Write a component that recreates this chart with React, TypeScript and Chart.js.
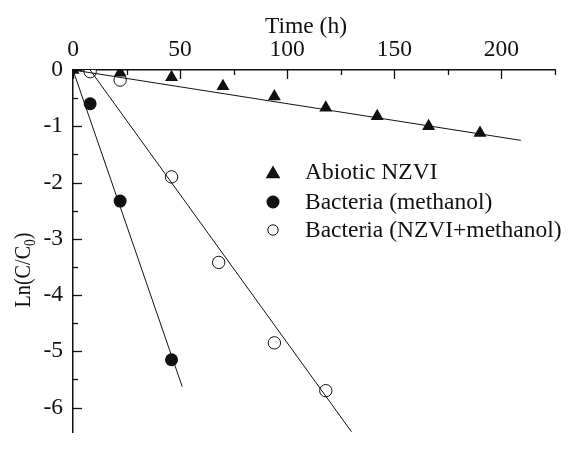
import React, { useEffect, useRef } from 'react';
import { Chart, registerables } from 'chart.js';

Chart.register(...registerables);

// ---- data ----
const X_TICKS = [0, 50, 100, 150, 200];
const X_MINOR = [25, 75, 125, 175, 225];
const Y_TICKS = [0, -1, -2, -3, -4, -5, -6];
const Y_MINOR = [-0.5, -1.5, -2.5, -3.5, -4.5, -5.5];

const abioticTime = [0, 22, 46, 70, 94, 118, 142, 166, 190];
const abioticLn = [0, -0.05, -0.13, -0.29, -0.47, -0.67, -0.82, -1.0, -1.12];
const methanolTime = [8, 22, 46];
const methanolLn = [-0.6, -2.33, -5.15];
const nzviMethTime = [8, 22, 46, 68, 94, 118];
const nzviMethLn = [-0.03, -0.18, -1.9, -3.42, -4.85, -5.7];

const abioticFitX = [0, 209];
const abioticFitY = [0, -1.25];
const methanolFitX = [0, 51];
const methanolFitY = [0, -5.63];
const nzviMethFitX = [8, 130];
const nzviMethFitY = [0, -6.43];

const LEGEND_LABELS = ['Abiotic NZVI', 'Bacteria (methanol)', 'Bacteria (NZVI+methanol)'];

const FONT = 'Liberation Serif, "Times New Roman", serif';
const INK = '#111';

const pts = (xs: number[], ys: number[]) => xs.map((x, i) => ({ x, y: ys[i] }));

function drawTriangle(ctx: CanvasRenderingContext2D, x: number, y: number, r: number) {
  ctx.beginPath();
  for (let k = 0; k < 3; k++) {
    const a = (k * 2 * Math.PI) / 3;
    const px = x + Math.sin(a) * r;
    const py = y - Math.cos(a) * r;
    if (k === 0) ctx.moveTo(px, py);
    else ctx.lineTo(px, py);
  }
  ctx.closePath();
  ctx.fill();
}

const decorPlugin = {
  id: 'decor',
  afterDraw(chart: any) {
    const { ctx, chartArea, scales } = chart;
    const xs = scales.x;
    const ys = scales.y;
    ctx.save();
    ctx.strokeStyle = INK;
    ctx.lineWidth = 1.3;
    const top = chartArea.top;
    const left = chartArea.left;
    X_TICKS.forEach((v) => {
      const px = Math.round(xs.getPixelForValue(v)) + 0.5;
      ctx.beginPath();
      ctx.moveTo(px, top);
      ctx.lineTo(px, top + 9);
      ctx.stroke();
    });
    X_MINOR.forEach((v) => {
      const px = Math.round(xs.getPixelForValue(v)) + 0.5;
      ctx.beginPath();
      ctx.moveTo(px, top);
      ctx.lineTo(px, top + 5);
      ctx.stroke();
    });
    Y_TICKS.forEach((v) => {
      const py = Math.round(ys.getPixelForValue(v)) + 0.5;
      ctx.beginPath();
      ctx.moveTo(left, py);
      ctx.lineTo(left + 9, py);
      ctx.stroke();
    });
    Y_MINOR.forEach((v) => {
      const py = Math.round(ys.getPixelForValue(v)) + 0.5;
      ctx.beginPath();
      ctx.moveTo(left, py);
      ctx.lineTo(left + 5, py);
      ctx.stroke();
    });

    ctx.fillStyle = INK;
    ctx.font = `23.5px ${FONT}`;
    ctx.textAlign = 'center';
    ctx.textBaseline = 'alphabetic';
    ctx.fillText('Time (h)', 306, 33);

    ctx.save();
    ctx.translate(30, 270);
    ctx.rotate(-Math.PI / 2);
    const mainFont = `24px ${FONT}`;
    const subFont = `16px ${FONT}`;
    ctx.font = mainFont;
    const w1 = ctx.measureText('Ln(C/C').width;
    const w3 = ctx.measureText(')').width;
    ctx.font = subFont;
    const w2 = ctx.measureText('0').width;
    const total = w1 + w2 + w3;
    const sx = 75 / total;
    ctx.scale(sx, 1);
    let cx = -total / 2;
    ctx.textAlign = 'left';
    ctx.font = mainFont;
    ctx.fillText('Ln(C/C', cx, 0);
    cx += w1;
    ctx.font = subFont;
    ctx.fillText('0', cx, 5);
    cx += w2;
    ctx.font = mainFont;
    ctx.fillText(')', cx, 0);
    ctx.restore();

    const lx = 273;
    const tx = 305;
    const rows = [172, 202, 230];
    ctx.font = `23.5px ${FONT}`;
    ctx.textAlign = 'left';
    ctx.textBaseline = 'middle';
    ctx.fillStyle = INK;
    drawTriangle(ctx, lx, rows[0] + 2, 8.5);
    ctx.beginPath();
    ctx.arc(lx, rows[1], 6.5, 0, Math.PI * 2);
    ctx.fill();
    ctx.beginPath();
    ctx.lineWidth = 1;
    ctx.arc(lx, rows[2], 5.2, 0, Math.PI * 2);
    ctx.stroke();
    LEGEND_LABELS.forEach((t, i) => ctx.fillText(t, tx, rows[i] + 1));
    ctx.restore();
  },
};

export default function App() {
  const ref = useRef<HTMLCanvasElement | null>(null);
  useEffect(() => {
    if (!ref.current) return;
    const lineDs = (xs: number[], ys: number[]) => ({
      type: 'scatter' as const,
      data: pts(xs, ys),
      showLine: true,
      borderColor: INK,
      borderWidth: 1,
      pointRadius: 0,
      fill: false,
    });
    const chart = new Chart(ref.current, {
      type: 'scatter',
      data: {
        datasets: [
          lineDs(abioticFitX, abioticFitY),
          lineDs(methanolFitX, methanolFitY),
          lineDs(nzviMethFitX, nzviMethFitY),
          {
            label: LEGEND_LABELS[0],
            data: pts(abioticTime, abioticLn),
            pointStyle: 'triangle',
            pointRadius: 7.5,
            backgroundColor: INK,
            borderColor: INK,
            borderWidth: 0,
          },
          {
            label: LEGEND_LABELS[1],
            data: pts(methanolTime, methanolLn),
            pointStyle: 'circle',
            pointRadius: 6.5,
            backgroundColor: INK,
            borderColor: INK,
            borderWidth: 0,
          },
          {
            label: LEGEND_LABELS[2],
            data: pts(nzviMethTime, nzviMethLn),
            pointStyle: 'circle',
            pointRadius: 6.2,
            backgroundColor: '#fff',
            borderColor: INK,
            borderWidth: 1,
          },
        ],
      } as any,
      options: {
        responsive: false,
        animation: false,
        devicePixelRatio: 1,
        layout: { padding: { left: 0, top: 0, right: 13, bottom: 0 } },
        plugins: { legend: { display: false }, tooltip: { enabled: false } },
        scales: {
          x: {
            type: 'linear',
            position: 'top',
            min: 0,
            max: 225,
            afterFit: (s: any) => {
              s.height = 70;
            },
            afterBuildTicks: (s: any) => {
              s.ticks = X_TICKS.map((v) => ({ value: v }));
            },
            grid: { display: true, drawOnChartArea: false, drawTicks: false },
            border: { display: true, color: INK, width: 1.5 },
            ticks: {
              padding: 6,
              color: INK,
              font: { family: FONT, size: 23.5 },
              maxRotation: 0,
            },
          },
          y: {
            type: 'linear',
            position: 'left',
            min: -6.45,
            max: 0,
            afterFit: (s: any) => {
              s.width = 73;
            },
            afterBuildTicks: (s: any) => {
              s.ticks = Y_TICKS.map((v) => ({ value: v }));
            },
            grid: { display: true, drawOnChartArea: false, drawTicks: false },
            border: { display: true, color: INK, width: 1.5 },
            ticks: {
              padding: 10,
              color: INK,
              font: { family: FONT, size: 23.5 },
            },
          },
        },
      } as any,
      plugins: [decorPlugin],
    });
    return () => chart.destroy();
  }, []);
  return (
    <div style={{ position: 'fixed', left: 0, top: 0, width: 568, height: 457, background: '#fff' }}>
      <canvas ref={ref} width={568} height={457} style={{ display: 'block' }} />
    </div>
  );
}
